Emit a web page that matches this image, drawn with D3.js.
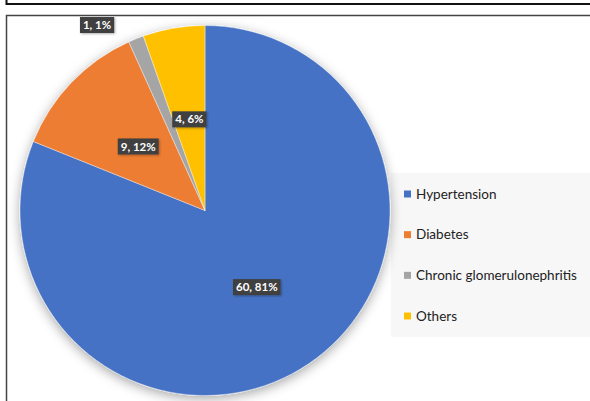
<!DOCTYPE html>
<html lang="en">
<head>
<meta charset="utf-8">
<title>Causes pie</title>
<script src="https://d3js.org/d3.v7.min.js"></script>
<style>
body { margin: 0; background: #fff; }
.legend-text { font-family: Lato, "Open Sans", sans-serif; font-size: 13.5px; fill: #222; }
.lbl-text { font-family: Lato, "Open Sans", sans-serif; font-size: 11.5px; font-weight: bold; fill: #fff; }
</style>
</head>
<body>
<div id="container"></div>
<script>
var categories = ["Hypertension", "Diabetes", "Chronic glomerulonephritis", "Others"];
var counts = [60, 9, 1, 4];
var labels = ["60, 81%", "9, 12%", "1, 1%", "4, 6%"];
var colors = ["#4472C4", "#ED7D31", "#A5A5A5", "#FFC000"];

var w = 590, h = 401;
var cx = 205, cy = 210.5, r = 185;

var svg = d3.select("#container").append("svg")
    .attr("width", w).attr("height", h);

var defs = svg.append("defs");
var f = defs.append("filter").attr("id", "shadow")
    .attr("x", "-20%").attr("y", "-20%").attr("width", "140%").attr("height", "140%");
f.append("feDropShadow").attr("dx", 0).attr("dy", 3).attr("stdDeviation", 6)
    .attr("flood-color", "#000").attr("flood-opacity", 0.35);
var f2 = defs.append("filter").attr("id", "lshadow")
    .attr("x", "-30%").attr("y", "-50%").attr("width", "160%").attr("height", "200%");
f2.append("feDropShadow").attr("dx", 1).attr("dy", 1).attr("stdDeviation", 1)
    .attr("flood-color", "#000").attr("flood-opacity", 0.3);

// frame lines (table cell borders)
svg.append("line").attr("x1", 6).attr("x2", w).attr("y1", 4).attr("y2", 4)
    .attr("stroke", "#111").attr("stroke-width", 2);
svg.append("line").attr("x1", 6.5).attr("x2", 6.5).attr("y1", 0).attr("y2", 5)
    .attr("stroke", "#111").attr("stroke-width", 2);
svg.append("rect").attr("x", 6.5).attr("y", 15.5).attr("width", w + 10).attr("height", h)
    .attr("fill", "#fff").attr("stroke", "#444").attr("stroke-width", 1.5);

// legend background
svg.append("rect").attr("x", 391).attr("y", 173).attr("width", 199).attr("height", 164)
    .attr("fill", "#f7f7f7");

var pie = d3.pie().sort(null).value(function(d) { return d; });
var arcs = pie(counts);
var arc = d3.arc().innerRadius(0).outerRadius(r);

var g = svg.append("g").attr("transform", "translate(" + cx + "," + cy + ")");
g.append("g").attr("filter", "url(#shadow)")
  .selectAll("path").data(arcs).enter().append("path")
    .attr("d", arc)
    .attr("fill", function(d, i) { return colors[i]; })
    .attr("stroke", "#fff").attr("stroke-width", 0.4);

// data labels
var labelArc = d3.arc().innerRadius(r * 0.5).outerRadius(r * 0.5);
var outerR = r * 1.16, nudge = -8.3 * Math.PI / 180;
function labelPos(d, i) {
    if (counts[i] / d3.sum(counts) < 0.03) {
        var a = (d.startAngle + d.endAngle) / 2 + nudge;
        return [Math.sin(a) * outerR, -Math.cos(a) * outerR];
    }
    return labelArc.centroid(d);
}
var lg = g.selectAll("g.lbl").data(arcs).enter().append("g")
    .attr("class", "lbl")
    .attr("transform", function(d, i) { var p = labelPos(d, i); return "translate(" + p[0] + "," + p[1] + ")"; });
lg.each(function(d, i) {
    var sel = d3.select(this);
    var t = sel.append("text").attr("class", "lbl-text")
        .attr("text-anchor", "middle").attr("dy", "0.36em").text(labels[i]);
    var bw = t.node().getComputedTextLength() + 6;
    sel.insert("rect", "text").attr("x", -bw / 2).attr("y", -8).attr("width", bw).attr("height", 16)
        .attr("fill", "#404040").attr("filter", "url(#lshadow)");
});

// legend
var ly = d3.scalePoint().domain(categories).range([194, 316]);
var leg = svg.selectAll("g.leg").data(categories).enter().append("g")
    .attr("class", "leg")
    .attr("transform", function(d) { return "translate(404," + ly(d) + ")"; });
leg.append("rect").attr("x", 0).attr("y", -3.5).attr("width", 7).attr("height", 7)
    .attr("fill", function(d, i) { return colors[i]; });
leg.append("text").attr("class", "legend-text").attr("x", 12).attr("dy", "0.35em")
    .text(function(d) { return d; });
</script>
</body>
</html>
